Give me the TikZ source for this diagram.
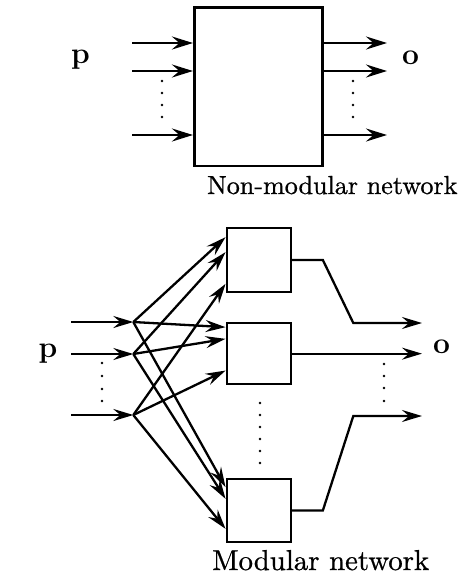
\documentclass[tikz,border=0pt]{standalone}
\usepackage{fontspec}
\usetikzlibrary{arrows.meta,calc}
\newfontfamily\heavyrm{lmroman10-regular.otf}[FakeBold=0.7]
\begin{document}
\begin{tikzpicture}[x=1pt,y=-1pt,
  wireA/.style={line width=2.7pt},
  arrA/.style={wireA,-{Stealth[length=21pt,width=13pt,inset=7.5pt]}},
  wireB/.style={line width=2.3pt},
  arrB/.style={wireB,-{Stealth[length=20pt,width=12pt,inset=7pt]}},
  net/.style={draw,line width=2.7pt,minimum width=128pt,minimum height=158.7pt,inner sep=0pt},
  module/.style={draw,line width=2.3pt,minimum width=64pt,inner sep=0pt},
  sym/.style={font=\fontsize{30}{31}\selectfont\bfseries,inner sep=0pt,anchor=base},
  caption/.style={inner sep=0pt,anchor=base west}]
\useasboundingbox (0,0) rectangle (462,579);

% ---------- single (non-modular) network ----------
\node[net] (big) at (258.3,86.7) {};
\foreach \i/\y in {1/43,2/71,3/135} {
  \coordinate (in\i) at (132,\y);
  \coordinate (out\i) at (387,\y);
  \draw[arrA] (in\i) -- (in\i -| big.west);
  \draw[arrA] (out\i -| big.east) -- (out\i);
}
\foreach \y in {81,93,105,117} {
  \fill (162,\y) circle (1.4pt);
  \fill (353,\y) circle (1.4pt);
}
\node[sym] (pA) at (80.5,63) {p};
\node[sym] (oA) at (410.5,64) {o};
\node[caption,font=\heavyrm\fontsize{26.1}{28}\selectfont] (capA) at (207,194) {Non-modular network};

% ---------- modular network ----------
\node[module,minimum height=63.4pt] (m1) at (258.7,260) {};
\node[module,minimum height=60.7pt] (m2) at (258.7,353.65) {};
\node[module,minimum height=62.4pt] (m3) at (258.7,510.5) {};

% input lines ending in the fan-out junctions
\foreach \i/\y in {1/322,2/354,3/415} {
  \coordinate (s\i) at (71,\y);
  \coordinate (j\i) at (133.3,\y);
  \draw[arrB] (s\i) -- (j\i);
}
\foreach \y in {363,376,389,401} \fill (102,\y) circle (1.4pt);

% entry points on the left side of each module
\coordinate (t11) at ($(m1.north west)+(0,10)$);
\coordinate (t21) at ($(m1.north west)+(0,25)$);
\coordinate (t31) at ($(m1.north west)+(0,56.7)$);
\coordinate (t12) at ($(m2.north west)+(0,5)$);
\coordinate (t22) at ($(m2.north west)+(0,16.7)$);
\coordinate (t32) at ($(m2.north west)+(0,48.4)$);
\coordinate (t13) at ($(m3.north west)+(0,9)$);
\coordinate (t23) at ($(m3.north west)+(0,20.7)$);
\coordinate (t33) at ($(m3.north west)+(0,50.7)$);
\foreach \i in {1,2,3} \foreach \k in {1,2,3}
  \draw[arrB] (j\i) -- (t\i\k);

% outputs
\coordinate (o1) at (422,323);
\coordinate (o2) at (422,353.65);
\coordinate (o3) at (422,416);
\draw[arrB] (m1.east) -- ++(31,0) -- (353.3,323) -- (o1);
\draw[arrB] (m2.east) -- (o2);
\draw[arrB] (m3.east) -- ++(31,0) -- (353.3,416) -- (o3);
\foreach \y in {364,376,388,401} \fill (384,\y) circle (1.4pt);
\foreach \y in {403,415,427,439,451,463} \fill (260,\y) circle (1.4pt);

\node[sym] (pB) at (48,357) {p};
\node[sym] (oB) at (441.5,353) {o};
\node[caption,font=\heavyrm\fontsize{28.8}{31}\selectfont] (capB) at (212,570) {Modular network};
\end{tikzpicture}
\end{document}
